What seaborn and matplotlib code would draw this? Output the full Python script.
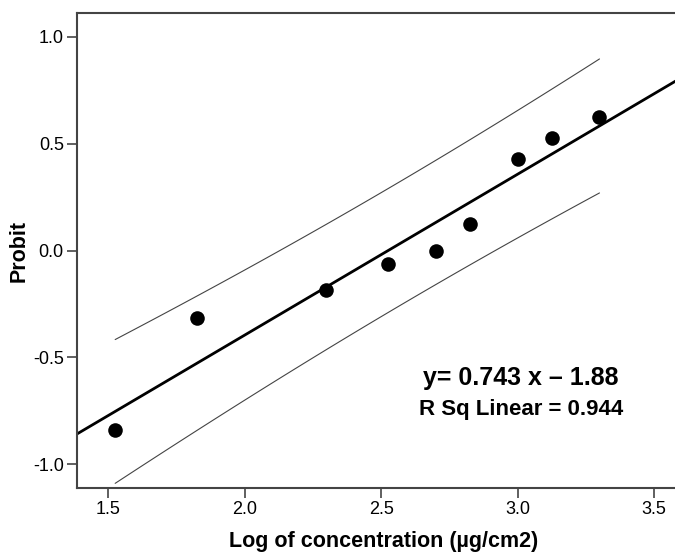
import numpy as np
import pandas as pd
import seaborn as sns
import matplotlib
matplotlib.use("Agg")
from matplotlib import pyplot as plt

# data
log_conc = [1.526, 1.826, 2.30, 2.526, 2.70, 2.826, 3.00, 3.126, 3.30]
probit = [-0.84, -0.318, -0.187, -0.061, 0.0, 0.126, 0.43, 0.525, 0.623]
eq_text = "y= 0.743 x \u2013 1.88"
r2_text = "R Sq Linear = 0.944"
x_ticks = [1.5, 2.0, 2.5, 3.0, 3.5]
y_ticks = [-1.0, -0.5, 0.0, 0.5, 1.0]

df = pd.DataFrame({"x": log_conc, "y": probit})

sns.set_style("white")
plt.rcParams["font.family"] = ["Liberation Sans", "DejaVu Sans"]

fig = plt.figure(figsize=(6.75, 5.53), dpi=100)
ax = fig.add_axes([0.114, 0.1175, 0.91, 0.859])
ax.set_xlim(1.386, 3.636)
ax.set_ylim(-1.112, 1.112)

# fit line over the whole axis
sns.regplot(data=df, x="x", y="y", ax=ax, ci=None, truncate=False,
            scatter=False, line_kws={"color": "black", "lw": 2.0})

# individual prediction interval (95%)
x = np.array(log_conc)
y = np.array(probit)
n = len(x)
b, a = np.polyfit(x, y, 1)
resid = y - (a + b * x)
s = np.sqrt(np.sum(resid ** 2) / (n - 2))
t = 2.365  # t(0.975, 7)
xs = np.linspace(x.min(), x.max(), 100)
se = s * np.sqrt(1 + 1 / n + (xs - x.mean()) ** 2 / np.sum((x - x.mean()) ** 2))
fit = a + b * xs
ax.plot(xs, fit + t * se, color="#444444", lw=0.8)
ax.plot(xs, fit - t * se, color="#444444", lw=0.8)

sns.scatterplot(data=df, x="x", y="y", ax=ax, color="black", s=110,
                edgecolor="black", linewidth=0, zorder=5)

ax.set_xlim(1.386, 3.636)
ax.set_ylim(-1.112, 1.112)
ax.set_xticks(x_ticks)
ax.set_yticks(y_ticks)
ax.set_xticklabels([f"{v:.1f}" for v in x_ticks], fontsize=13)
ax.set_yticklabels([f"{v:.1f}" for v in y_ticks], fontsize=13)
ax.tick_params(bottom=True, left=True, direction="out", length=7, width=1.2,
               color="#444444", labelcolor="black", pad=2.5)
for sp in ax.spines.values():
    sp.set_color("#444444")
    sp.set_linewidth(1.5)

ax.set_xlabel("Log of concentration (\u00b5g/cm2)", fontsize=15.5,
              fontweight="bold", labelpad=9, color="black")
ax.set_ylabel("Probit", fontsize=15.5, fontweight="bold", color="black")
ax.yaxis.set_label_coords(-0.077, 0.5)

ax.text(3.013, -0.595, eq_text, fontsize=18, fontweight="bold",
        ha="center", va="center", color="black")
ax.text(3.013, -0.745, r2_text, fontsize=16, fontweight="bold",
        ha="center", va="center", color="black")

fig.savefig("out.png", dpi=100)
